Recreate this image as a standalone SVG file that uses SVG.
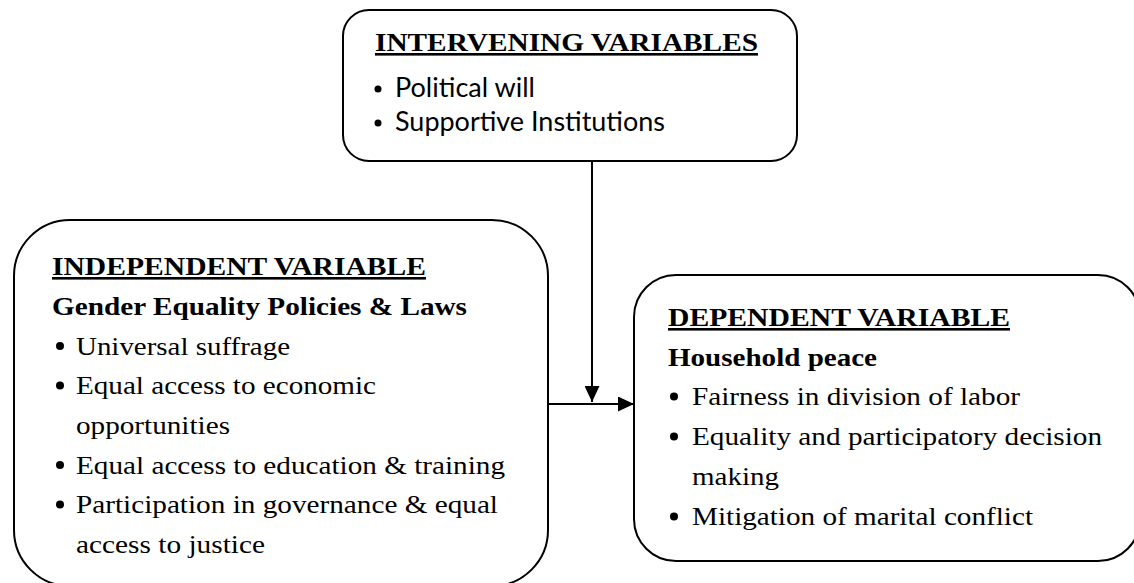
<svg xmlns="http://www.w3.org/2000/svg" width="1134" height="583" viewBox="0 0 1134 583">
  <style>
    .box { fill: #ffffff; stroke: #000000; stroke-width: 2; }
    .conn { stroke: #000000; stroke-width: 2; fill: none; }
    .serif { font-family: 'Liberation Serif', 'Times New Roman', Tinos, 'Nimbus Roman', Times, serif; font-size: 26px; fill: #000000; }
    .title { font-weight: bold; text-decoration: underline; }
    .bold { font-weight: bold; }
    .sans { font-family: Lato, 'Open Sans', 'Liberation Sans', sans-serif; font-size: 26px; fill: #000000; }
    .dot { fill: #000000; }
  </style>
  <defs>
    <marker id="arrow" viewBox="0 0 16 15" refX="16" refY="7.5" markerWidth="16" markerHeight="15" markerUnits="userSpaceOnUse" orient="auto">
      <path d="M0,0 L16,7.5 L0,15 Z" fill="#000000"/>
    </marker>
  </defs>

  <g id="connectors">
    <line class="conn" x1="592" y1="161" x2="592" y2="402" marker-end="url(#arrow)"/>
    <line class="conn" x1="548" y1="404" x2="634" y2="404" marker-end="url(#arrow)"/>
  </g>

  <g id="intervening">
    <rect class="box" x="343" y="10" width="454" height="151" rx="26" ry="26"/>
    <text class="serif title" x="375" y="51" textLength="383" lengthAdjust="spacingAndGlyphs">INTERVENING VARIABLES</text>
    <circle class="dot" cx="378" cy="89" r="3.5"/>
    <text class="sans" x="395" y="97" textLength="140" lengthAdjust="spacingAndGlyphs">Political will</text>
    <circle class="dot" cx="378" cy="123" r="3.5"/>
    <text class="sans" x="395" y="131" textLength="270" lengthAdjust="spacingAndGlyphs">Supportive Institutions</text>
  </g>

  <g id="independent">
    <rect class="box" x="14" y="220" width="534" height="366" rx="56" ry="56"/>
    <text class="serif title" x="52" y="275" textLength="374" lengthAdjust="spacingAndGlyphs">INDEPENDENT VARIABLE</text>
    <text class="serif bold" x="52" y="314.5" textLength="415" lengthAdjust="spacingAndGlyphs">Gender Equality Policies &amp; Laws</text>
    <circle class="dot" cx="60" cy="346" r="4"/>
    <text class="serif" x="76" y="354.5" textLength="214" lengthAdjust="spacingAndGlyphs">Universal suffrage</text>
    <circle class="dot" cx="60" cy="385.5" r="4"/>
    <text class="serif" x="76" y="394" textLength="300" lengthAdjust="spacingAndGlyphs">Equal access to economic</text>
    <text class="serif" x="76" y="434" textLength="154" lengthAdjust="spacingAndGlyphs">opportunities</text>
    <circle class="dot" cx="60" cy="465" r="4"/>
    <text class="serif" x="76" y="473.5" textLength="429" lengthAdjust="spacingAndGlyphs">Equal access to education &amp; training</text>
    <circle class="dot" cx="60" cy="504.5" r="4"/>
    <text class="serif" x="76" y="513" textLength="422" lengthAdjust="spacingAndGlyphs">Participation in governance &amp; equal</text>
    <text class="serif" x="76" y="553" textLength="189" lengthAdjust="spacingAndGlyphs">access to justice</text>
  </g>

  <g id="dependent">
    <rect class="box" x="634" y="275" width="506" height="286" rx="42" ry="42"/>
    <text class="serif title" x="668" y="326" textLength="342" lengthAdjust="spacingAndGlyphs">DEPENDENT VARIABLE</text>
    <text class="serif bold" x="668" y="365.5" textLength="209" lengthAdjust="spacingAndGlyphs">Household peace</text>
    <circle class="dot" cx="674" cy="396.5" r="4"/>
    <text class="serif" x="692" y="405" textLength="328" lengthAdjust="spacingAndGlyphs">Fairness in division of labor</text>
    <circle class="dot" cx="674" cy="436.5" r="4"/>
    <text class="serif" x="692" y="445" textLength="410" lengthAdjust="spacingAndGlyphs">Equality and participatory decision</text>
    <text class="serif" x="692" y="485" textLength="87" lengthAdjust="spacingAndGlyphs">making</text>
    <circle class="dot" cx="674" cy="516.5" r="4"/>
    <text class="serif" x="692" y="525" textLength="341" lengthAdjust="spacingAndGlyphs">Mitigation of marital conflict</text>
  </g>
</svg>
